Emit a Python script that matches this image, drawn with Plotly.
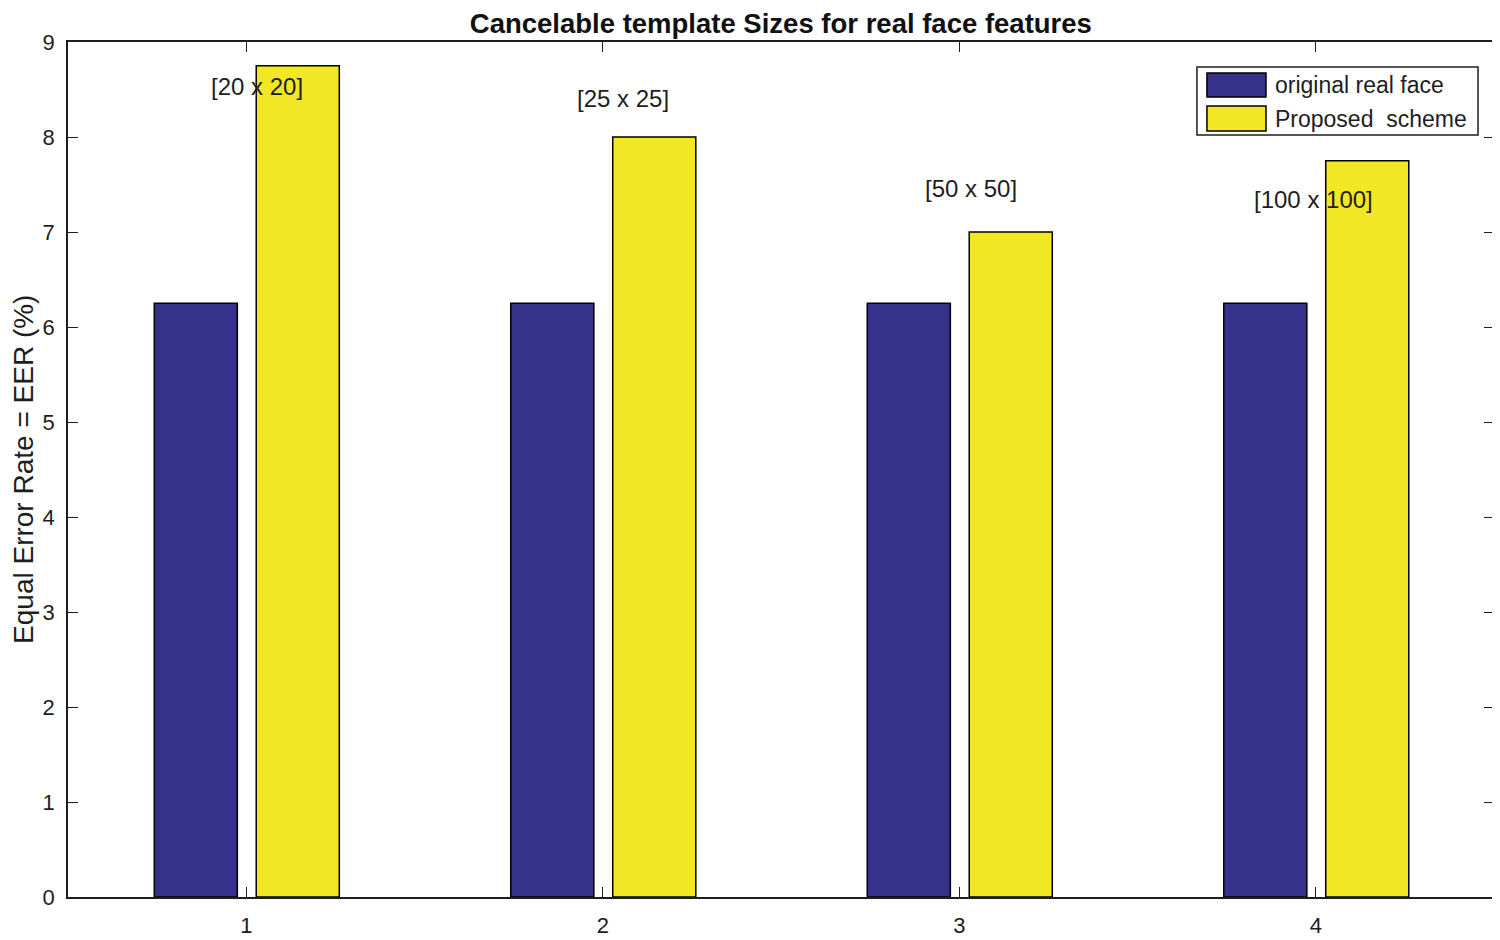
import plotly.graph_objects as go

categories = [1, 2, 3, 4]
series_names = ["original real face", "Proposed  scheme"]
original_real_face = [6.25, 6.25, 6.25, 6.25]
proposed_scheme = [8.75, 8.0, 7.0, 7.75]
size_labels = ["[20 x 20]", "[25 x 25]", "[50 x 50]", "[100 x 100]"]
label_x = [1.03, 2.056, 3.034, 3.995]
label_y = [8.53, 8.41, 7.46, 7.34]
y_title = "Equal Error Rate = EER (%)"

BLUE = "#36318A"
YELLOW = "#F1E724"
FONT = "Liberation Sans, Arial, sans-serif"
INK = "#1E1E1E"

fig = go.Figure()
fig.add_trace(go.Bar(x=categories, y=original_real_face, name=series_names[0],
                     width=0.233, offset=-0.258,
                     marker=dict(color=BLUE, line=dict(color="black", width=1.5))))
fig.add_trace(go.Bar(x=categories, y=proposed_scheme, name=series_names[1],
                     width=0.233, offset=0.028,
                     marker=dict(color=YELLOW, line=dict(color="black", width=1.5))))

for t, x, y in zip(size_labels, label_x, label_y):
    fig.add_annotation(x=x, y=y, text=t, showarrow=False, xref="x", yref="y",
                       font=dict(family=FONT, size=24, color=INK))

# MATLAB-style legend box (wide colour swatches)
fig.add_shape(type="rect", xref="paper", yref="paper", x0=0.7917, x1=0.9888,
              y0=0.8912, y1=0.9708, fillcolor="white", line=dict(color=INK, width=1.5),
              layer="above")
swatches = [(BLUE, 0.9357, 0.9637, 0.9497), (YELLOW, 0.8959, 0.9251, 0.9099)]
for name, (col, y0, y1, yt) in zip(series_names, swatches):
    fig.add_shape(type="rect", xref="paper", yref="paper", x0=0.7987, x1=0.8401,
                  y0=y0, y1=y1, fillcolor=col, line=dict(color="black", width=1.5),
                  layer="above")
    fig.add_annotation(x=0.8450, y=yt, xref="paper", yref="paper", text=name,
                       showarrow=False, xanchor="left", yanchor="middle",
                       font=dict(family=FONT, size=23, color=INK))

# y-axis title
fig.add_annotation(x=-0.0309, y=0.5006, xref="paper", yref="paper", text=y_title,
                   showarrow=False, textangle=-90, xanchor="center", yanchor="middle",
                   font=dict(family=FONT, size=28, color=INK))

fig.update_layout(
    width=1492, height=932,
    margin=dict(l=60, r=6, t=34, b=43),
    paper_bgcolor="white", plot_bgcolor="white",
    barmode="overlay", showlegend=False,
    title=dict(text="<b>Cancelable template Sizes for real face features</b>",
               x=0.518, xanchor="center", y=0.9839, yanchor="middle",
               font=dict(family=FONT, size=27.5, color="#111111")),
    font=dict(family=FONT, color=INK),
)
fig.update_xaxes(range=[0.5, 4.5], tickvals=categories, ticktext=[str(c) for c in categories],
                 showline=True, linecolor=INK, linewidth=1.5, mirror="ticks",
                 ticks="inside", ticklen=10, tickcolor=INK, showgrid=False,
                 ticklabelstandoff=8, automargin=False,
                 zeroline=False, tickfont=dict(family=FONT, size=22, color=INK))
fig.update_yaxes(range=[0, 9], dtick=1,
                 showline=True, linecolor=INK, linewidth=1.5, mirror="ticks",
                 ticks="inside", ticklen=10, tickcolor=INK, showgrid=False,
                 ticklabelstandoff=7, automargin=False,
                 zeroline=False, tickfont=dict(family=FONT, size=22, color=INK))

fig.write_html("out.html")
